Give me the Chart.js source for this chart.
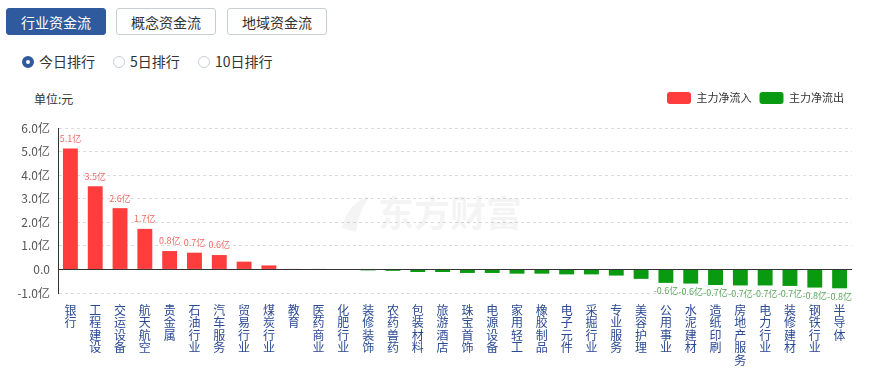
<!DOCTYPE html>
<html>
<head>
<meta charset="utf-8">
<script src="https://cdn.jsdelivr.net/npm/chart.js@4.4.1/dist/chart.umd.min.js"></script>
<style>
  body { margin:0; width:878px; height:369px; background:#fff; font-family:"Microsoft YaHei","Noto Sans CJK SC",sans-serif; position:relative; overflow:hidden; }
  .tabs { position:absolute; left:6px; top:8px; }
  .tab { position:absolute; top:0; height:27px; line-height:27px; width:100px; text-align:center; font-size:14px; color:#333; border:1px solid #c9ced6; border-radius:3px; box-sizing:border-box; background:#fff; }
  .tab.on { background:#2f5a9e; border-color:#2f5a9e; color:#fff; }
  .radios { position:absolute; left:22px; top:52px; font-size:14px; color:#333; }
  .radio { position:absolute; top:0; white-space:nowrap; line-height:18px; }
  .radio i { display:inline-block; width:12px; height:12px; border:1px solid #c8ced8; border-radius:50%; box-sizing:border-box; vertical-align:-1px; margin-right:5px; }
  .radio.on i { border:4px solid #2f5a9e; }
  .unit { position:absolute; left:34px; top:90px; font-size:12px; color:#333; }
  #wrap { position:absolute; left:0; top:82px; width:878px; height:287px; }
</style>
</head>
<body>
<div class="tabs">
  <div class="tab on" style="left:0">行业资金流</div>
  <div class="tab" style="left:110px">概念资金流</div>
  <div class="tab" style="left:221px">地域资金流</div>
</div>
<div class="radios">
  <span class="radio on" style="left:0"><i></i>今日排行</span>
  <span class="radio" style="left:91px"><i></i>5日排行</span>
  <span class="radio" style="left:176px"><i></i>10日排行</span>
</div>
<div class="unit">单位:元</div>
<div id="wrap"><canvas id="chart"></canvas></div>
<script>
const categories = ['银行','工程建设','交运设备','航天航空','贵金属','石油行业','汽车服务','贸易行业','煤炭行业','教育',
  '医药商业','化肥行业','装修装饰','农药兽药','包装材料','旅游酒店','珠宝首饰','电源设备','家用轻工','橡胶制品',
  '电子元件','采掘行业','专业服务','美容护理','公用事业','水泥建材','造纸印刷','房地产服务','电力行业','装修建材',
  '钢铁行业','半导体'];
// 主力净流入/流出（亿元）
const netFlow = [5.13, 3.53, 2.6, 1.72, 0.78, 0.71, 0.61, 0.33, 0.17, 0.01,
  0.005, -0.01, -0.04, -0.06, -0.11, -0.11, -0.15, -0.15, -0.18, -0.18,
  -0.21, -0.21, -0.26, -0.40, -0.57, -0.60, -0.66, -0.68, -0.68, -0.70,
  -0.77, -0.80];
const yTicks = [-1, 0, 1, 2, 3, 4, 5, 6];

const RED = '#ff3d3d', GREEN = '#0a9a12';
const FONT = '"Microsoft YaHei","Noto Sans CJK SC",sans-serif';
const inflow = netFlow.map(v => v >= 0 ? v : null);
const outflow = netFlow.map(v => v < 0 ? v : null);

function fmtYi(v){
  return v === 0 ? '0.0' : v.toFixed(1) + '亿';
}

// 图例和图表之间多留一点空
const legendGap = {
  id: 'legendGap',
  beforeInit(chart){
    const fit = chart.legend.fit;
    chart.legend.fit = function(){ fit.call(this); this.height += 14; };
  }
};

const watermark = {
  id: 'watermark',
  beforeDatasetsDraw(chart){
    const { ctx } = chart;
    ctx.save();
    ctx.fillStyle = 'rgba(0,0,0,0.045)';
    ctx.font = 'bold 36px "Noto Sans CJK SC", sans-serif';
    ctx.textBaseline = 'middle';
    ctx.fillText('东方财富', 378, 131);
    ctx.beginPath();
    ctx.moveTo(342, 146); ctx.quadraticCurveTo(348, 120, 370, 114);
    ctx.quadraticCurveTo(358, 130, 356, 150); ctx.closePath();
    ctx.fill();
    ctx.restore();
  }
};

const zeroLine = {
  id: 'zeroLine',
  afterDatasetsDraw(chart){
    const { ctx, chartArea } = chart;
    const y = Math.round(chart.scales.y.getPixelForValue(0)) + 0.5;
    ctx.save();
    ctx.strokeStyle = '#333';
    ctx.lineWidth = 1;
    ctx.beginPath();
    ctx.moveTo(chartArea.left, y);
    ctx.lineTo(chartArea.right, y);
    ctx.stroke();
    ctx.restore();
  }
};

const barLabels = {
  id: 'barLabels',
  afterDatasetsDraw(chart){
    const { ctx } = chart;
    ctx.save();
    ctx.font = '9px ' + FONT;
    ctx.textAlign = 'center';
    ctx.textBaseline = 'middle';
    chart.data.datasets.forEach((ds, di) => {
      chart.getDatasetMeta(di).data.forEach((bar, i) => {
        const v = ds.data[i];
        if (v == null || Math.abs(v) < 0.55) return;
        if (v > 0) { ctx.fillStyle = '#ef6a64'; ctx.fillText(fmtYi(v), bar.x, bar.y - 10); }
        else { ctx.fillStyle = '#5aa85a'; ctx.fillText(fmtYi(v), bar.x, bar.y + 8); }
      });
    });
    ctx.restore();
  }
};

new Chart(document.getElementById('chart'), {
  type: 'bar',
  data: {
    labels: categories.map(c => c.split('')),
    datasets: [
      { label: '主力净流入', data: inflow, backgroundColor: RED },
      { label: '主力净流出', data: outflow, backgroundColor: GREEN }
    ]
  },
  plugins: [legendGap, watermark, zeroLine, barLabels],
  options: {
    responsive: true,
    maintainAspectRatio: false,
    animation: false,
    layout: { padding: { left: 0, right: 26, top: 2, bottom: 0 } },
    datasets: { bar: { barPercentage: 0.6, categoryPercentage: 1 } },
    plugins: {
      legend: {
        position: 'top', align: 'end',
        labels: {
          boxWidth: 24, boxHeight: 12, useBorderRadius: true, borderRadius: 3,
          color: '#333', padding: 8,
          font: { size: 11, family: FONT }
        }
      },
      tooltip: { enabled: false }
    },
    scales: {
      x: {
        stacked: true,
        grid: { display: false },
        border: { display: false },
        ticks: {
          color: '#2b4a94', padding: 3, maxRotation: 0, autoSkip: false,
          font: { size: 12, lineHeight: 1.04, family: FONT }
        },
        afterFit(s){ s.height = 76; }
      },
      y: {
        stacked: true,
        min: -1, max: 6,
        afterBuildTicks(s){ s.ticks = yTicks.map(v => ({ value: v })); },
        afterFit(s){ s.width = 58; },
        border: { display: true, color: '#333', width: 1, dash: [3, 3] },
        grid: {
          color: ctx => ctx.tick && ctx.tick.value === 0 ? 'rgba(0,0,0,0)' : '#dcdcdc',
          lineWidth: 1,
          drawTicks: false
        },
        ticks: {
          color: '#555', padding: 8,
          font: { size: 12, family: FONT },
          callback: v => fmtYi(v)
        }
      }
    }
  }
});
</script>
</body>
</html>
